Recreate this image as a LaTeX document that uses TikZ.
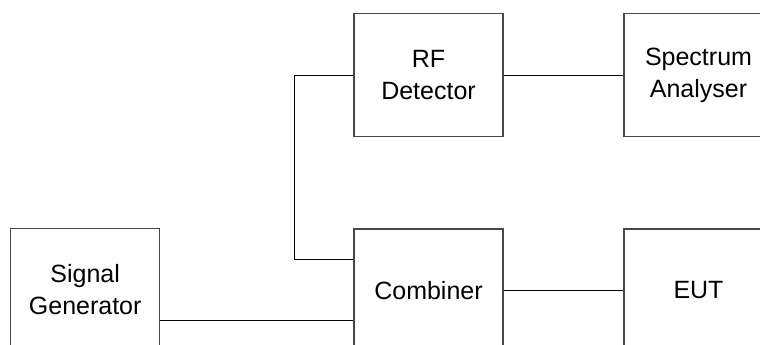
\documentclass[tikz,border=0pt]{standalone}
\usepackage{fontspec}
\setmainfont{Liberation Sans}
\begin{document}
\begin{tikzpicture}[x=1pt,y=-1pt,
  block/.style={draw=black!72, line width=1.1pt, fill=white,
    minimum width=149pt, minimum height=122.7pt, inner sep=0pt,
    align=center, font=\fontsize{25}{32}\selectfont},
  wire/.style={draw=black, line width=0.9pt}]
  \useasboundingbox (0,0) rectangle (760,345);

  % instrument blocks
  \node[block] (rf)   at (428.5,75.3)  {RF\\Detector};
  \node[block] (sa)   at (698.5,75.3)  {Spectrum\\Analyser};
  \node[block] (sg)   at (85.2,289.8)  {Signal\\Generator};
  \node[block] (comb) at (428.5,290.3) {Combiner};
  \node[block] (eut)  at (698.5,290.3) {EUT};

  % helper points for the cable routing
  \coordinate (tap)  at (294.7,259.3);
  \coordinate (feed) at (0,320.7);

  % cabling
  \draw[wire] (rf.east) -- (sa.west);
  \draw[wire] (comb.east) -- (eut.west);
  \draw[wire] (rf.west) -| (tap) -- (tap -| comb.west);
  \draw[wire] (feed -| sg.east) -- (feed -| comb.west);
\end{tikzpicture}
\end{document}
